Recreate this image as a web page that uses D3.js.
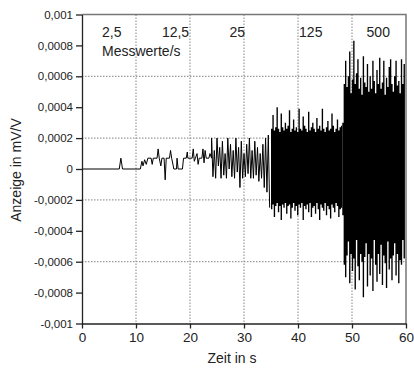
<!DOCTYPE html>
<html>
<head>
<meta charset="utf-8">
<script src="https://cdn.jsdelivr.net/npm/d3@7"></script>
<style>
  html, body { margin: 0; padding: 0; background: #fff; }
  svg { display: block; font-family: "Liberation Sans", Arial, sans-serif; }
  .grid line { stroke: #9a9a9a; stroke-width: 1.2; stroke-dasharray: 1.5,1.5; }
  .axis path, .axis line { stroke: #222; stroke-width: 1.3; }
  .axis text { fill: #222; }
</style>
</head>
<body>
<div id="chart"></div>
<script>
// values in 1e-4 mV/V
const UNIT = 1e-4;

const xTicks = [0, 10, 20, 30, 40, 50, 60];
const yTicks = [0.001, 0.0008, 0.0006, 0.0004, 0.0002, 0, -0.0002, -0.0004, -0.0006, -0.0008, -0.001];
const xGrid = [10, 20, 30, 40, 50];
const yGrid = [0.0006, 0.0002, -0.0002, -0.0006];

const rateLabels = ["2,5", "12,5", "25", "125", "500"];
const rateLabelT = [3.7, 14.8, 27.3, 40.2, 52.7];

// 2,5 and 12,5 Messwerte/s part, [t in s, value]
const slowTrace = [
  [0, 0], [6.9, 0], [7.2, 0.7], [7.5, 0], [10.8, 0], [11.1, 0.5], [11.3, 0.2], [11.6, 0.6],
  [11.9, 0.3], [12.2, 0.7], [12.8, 0.7], [13.0, 0.3], [13.2, 0.7], [13.9, 0.7], [14.1, 1.3],
  [14.3, 0.7], [14.6, 0.2], [14.8, 0.7], [15.2, 0.7], [15.4, -0.7], [15.6, 0.7], [16.2, 0.7],
  [16.4, 1.2], [16.6, 0.7], [16.9, 0.2], [17.0, 0.0], [17.5, 0.0], [17.6, 0.7], [17.8, 0.0],
  [18.6, 0.0], [18.8, 0.7], [19.3, 0.7], [19.5, 1.1], [19.6, 0.7], [20.4, 0.7], [20.6, 1.3],
  [20.8, 0.5], [21.0, 0.7], [21.3, 1.0], [21.5, 0.3], [21.7, 0.7], [22.2, 0.7], [22.4, 1.3],
  [22.6, 0.4], [22.8, 1.2], [23.0, 0.7], [23.5, 0.7], [23.7, 1.0], [24.0, 0.7]
];

// 25 Messwerte/s, peaks and troughs
const span25 = [24.0, 35.0];
const hi25 = [2.0, 1.2, 2.0, 1.4, 1.8, 1.0, 2.0, 1.6, 1.2, 2.0, 1.4,
              1.8, 1.0, 1.6, 2.0, 1.2, 1.8, 1.4, 1.0, 1.6, 2.0, 2.2];
const lo25 = [-0.5, -0.6, 0.2, -0.6, -0.4, -0.6, 0.0, -0.5, -0.6, -0.2, -1.2,
              -0.6, -0.5, -0.3, -0.6, -0.6, -0.4, -0.8, -0.6, -1.2, -1.5, -2.5];

// 125 Messwerte/s envelope
const span125 = [35.0, 48.2];
const hi125 = [2.6, 3.5, 2.5, 2.7, 4.0, 2.6, 2.4, 3.6, 2.7, 2.5,
               3.0, 2.6, 2.8, 3.8, 2.4, 2.6, 3.2, 2.5, 2.7, 2.4,
               3.9, 2.6, 2.5, 3.4, 2.8, 2.6, 2.4, 3.7, 2.5, 2.7,
               3.0, 2.6, 2.4, 3.3, 2.6, 2.8, 2.5, 3.9, 2.6, 2.4,
               2.7, 3.1, 2.5, 2.6, 3.6, 2.8, 2.4, 2.6, 3.2, 2.5,
               2.7, 2.8];
const lo125 = [-2.6, -2.3, -3.1, -2.4, -2.2, -2.8, -2.4, -3.3, -2.3, -2.5,
               -2.2, -2.9, -2.4, -2.3, -3.2, -2.5, -2.2, -2.7, -2.4, -3.0,
               -2.3, -2.5, -2.2, -3.3, -2.4, -2.6, -2.3, -2.8, -2.2, -3.1,
               -2.5, -2.4, -2.9, -2.2, -2.6, -3.3, -2.3, -2.5, -2.7, -2.2,
               -3.0, -2.4, -2.6, -3.2, -2.3, -2.5, -2.8, -2.2, -2.4, -3.1,
               -2.6, -2.5];

// 500 Messwerte/s envelope
const span500 = [48.2, 59.8];
const hi500 = [3.0, 5.5, 7.0, 5.3, 6.0, 7.6, 4.9, 5.8, 8.3, 5.5,
               6.2, 7.1, 5.2, 5.9, 4.8, 7.3, 5.6, 5.3, 6.8, 5.0,
               6.0, 5.2, 7.0, 5.7, 4.9, 6.4, 5.5, 7.2, 5.2, 5.6,
               7.0, 4.8, 5.9, 5.3, 6.6, 7.1, 5.5, 5.0, 6.0, 7.0,
               5.4, 5.7, 4.9, 7.1, 5.5, 6.8];
const lo500 = [-3.0, -6.2, -7.0, -5.6, -4.7, -7.4, -5.5, -6.6, -5.8, -7.8,
               -4.6, -6.3, -7.2, -5.5, -6.0, -8.3, -5.7, -4.8, -7.6, -5.5,
               -6.9, -5.8, -7.9, -4.6, -6.2, -7.3, -5.5, -6.8, -4.9, -7.5,
               -5.6, -6.1, -7.7, -4.7, -6.5, -5.8, -7.2, -5.6, -4.8, -6.9,
               -5.5, -7.4, -5.9, -6.2, -4.6, -5.8];

const width = 414, height = 368;
const margin = { top: 14.5, right: 8, bottom: 44.5, left: 82 };

const x = d3.scaleLinear().domain([0, 60]).range([margin.left, width - margin.right]);
const y = d3.scaleLinear().domain([-0.001, 0.001]).range([height - margin.bottom, margin.top]);

const fmt = v => v === 0 ? "0" : String(+v.toFixed(4)).replace(".", ",");

// peaks at t, troughs half a step later
function zigzag(span, hi, lo) {
  const n = Math.min(hi.length, lo.length);
  const dt = (span[1] - span[0]) / n;
  const pts = [];
  for (let i = 0; i < n; i++) {
    pts.push([span[0] + i * dt, hi[i]]);
    pts.push([span[0] + (i + 0.5) * dt, lo[i]]);
  }
  return pts;
}

// one [t, lo, hi] per envelope sample
function band(span, hi, lo) {
  const n = Math.min(hi.length, lo.length);
  const dt = (span[1] - span[0]) / n;
  const pts = hi.slice(0, n).map((h, i) => [span[0] + i * dt, lo[i], h]);
  pts.push([span[1], lo[n - 1], hi[n - 1]]);
  return pts;
}

const trace = slowTrace.concat(zigzag(span25, hi25, lo25));
const bands = [band(span125, hi125, lo125), band(span500, hi500, lo500)];

const svg = d3.select("#chart").append("svg")
  .attr("width", width)
  .attr("height", height);

// grid
const grid = svg.append("g").attr("class", "grid");
grid.selectAll(".gx").data(xGrid).join("line")
  .attr("x1", d => x(d)).attr("x2", d => x(d))
  .attr("y1", y(0.001)).attr("y2", y(-0.001));
grid.selectAll(".gy").data(yGrid).join("line")
  .attr("x1", x(0)).attr("x2", x(60))
  .attr("y1", d => y(d)).attr("y2", d => y(d));

// frame top/right
svg.append("path")
  .attr("d", `M${x(0)},${y(0.001)}H${x(60)}V${y(-0.001)}`)
  .attr("fill", "none")
  .attr("stroke", "#777")
  .attr("stroke-width", 1.5);

// signal
const line = d3.line().x(d => x(d[0])).y(d => y(d[1] * UNIT));
svg.append("path")
  .datum(trace)
  .attr("d", line)
  .attr("fill", "none")
  .attr("stroke", "#000")
  .attr("stroke-width", 1);

const area = d3.area()
  .curve(d3.curveStepAfter)
  .x(d => x(d[0]))
  .y0(d => y(d[1] * UNIT))
  .y1(d => y(d[2] * UNIT));
svg.selectAll(".band").data(bands).join("path")
  .attr("class", "band")
  .attr("d", area)
  .attr("fill", "#000");

// axes
const xAxis = svg.append("g").attr("class", "axis")
  .attr("transform", `translate(0,${y(-0.001)})`)
  .call(d3.axisBottom(x).tickValues(xTicks).tickFormat(d3.format("d")).tickSize(5).tickSizeOuter(0).tickPadding(4));
xAxis.selectAll("text").attr("font-size", 13.5);

const yAxis = svg.append("g").attr("class", "axis")
  .attr("transform", `translate(${x(0)},0)`)
  .call(d3.axisLeft(y).tickValues(yTicks).tickFormat(fmt).tickSize(6).tickSizeOuter(0).tickPadding(3));
yAxis.selectAll("text").attr("font-size", 11.5);

// titles
svg.append("text")
  .attr("x", 232).attr("y", 363)
  .attr("text-anchor", "middle")
  .attr("font-size", 14).attr("fill", "#222")
  .text("Zeit in s");

svg.append("text")
  .attr("transform", "translate(21,170) rotate(-90)")
  .attr("text-anchor", "middle")
  .attr("font-size", 14).attr("fill", "#222")
  .text("Anzeige in mV/V");

// sampling rate labels
svg.selectAll(".rate").data(rateLabels).join("text")
  .attr("class", "rate")
  .attr("x", (d, i) => x(rateLabelT[i]))
  .attr("y", 37)
  .attr("font-size", 14).attr("fill", "#222")
  .text(d => d);

svg.append("text")
  .attr("x", x(rateLabelT[0]))
  .attr("y", 56)
  .attr("font-size", 14).attr("fill", "#222")
  .text("Messwerte/s");
</script>
</body>
</html>
